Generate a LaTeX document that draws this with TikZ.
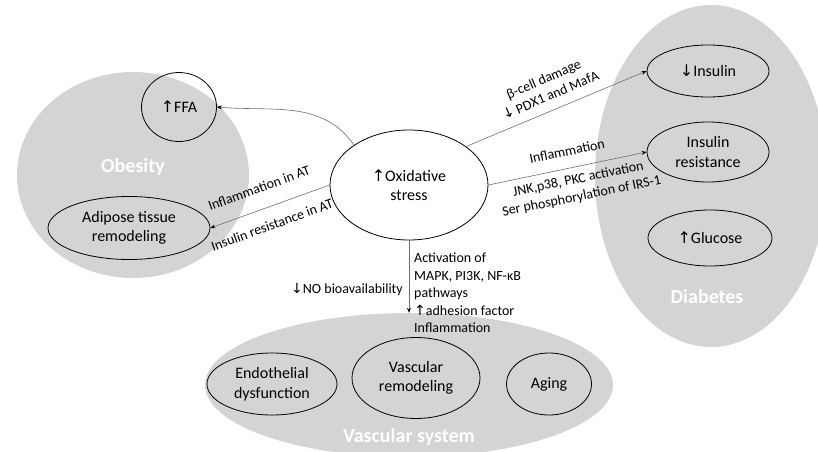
\documentclass[tikz,border=0pt]{standalone}
\usepackage{fontspec}
\setmainfont{Carlito}
\newfontfamily\arrfont{DejaVu Sans}
\usetikzlibrary{arrows.meta,shapes.geometric}
\newcommand\upa{{\arrfont\char"2191}}
\newcommand\dna{{\arrfont\char"2193}}
\definecolor{groupgray}{RGB}{212,212,212}
\definecolor{conngray}{RGB}{110,110,110}
\begin{document}
\begin{tikzpicture}[x=1pt,y=1pt,
  grp/.style={ellipse,fill=groupgray,draw=none,inner sep=0pt},
  grplabel/.style={text=white,font=\fontsize{20}{24}\selectfont\bfseries},
  item/.style={ellipse,draw=black,line width=0.8pt,inner sep=0pt,align=center,font=\fontsize{16}{19.5}\selectfont},
  conn/.style={draw=conngray,line width=0.6pt,-{Stealth[length=5pt,width=4pt,color=black]}},
  lbl/.style={font=\fontsize{14}{17.5}\selectfont,align=center,inner sep=1pt}]
\useasboundingbox (0,0) rectangle (818,451);
% group backgrounds
\begin{scope}
\clip (0,0) rectangle (818,451);
\node[grp,minimum width=232pt,minimum height=206pt] (obes) at (133,276) {};
\node[grp,minimum width=232pt,minimum height=342pt] (diab) at (711,275) {};
\node[grp,minimum width=408pt,minimum height=144pt] (vasc) at (409,66) {};
\end{scope}
\node[grplabel] (obesl) at (133,284) {Obesity};
\node[grplabel] (diabl) at (707,154) {Diabetes};
\node[grplabel] (vascl) at (409,14) {Vascular system};
% items
\node[item,minimum width=75pt,minimum height=69pt] (ffa) at (179,344) {\upa FFA};
\node[item,minimum width=162pt,minimum height=63pt] (adi) at (129,223) {Adipose tissue\\remodeling};
\node[item,fill=white,minimum width=158pt,minimum height=110pt] (ox) at (409,266) {\upa Oxidative\\stress};
\node[item,minimum width=122pt,minimum height=52pt] (ins) at (708,380) {\dna Insulin};
\node[item,minimum width=122pt,minimum height=60pt] (ir) at (708,299) {Insulin\\resistance};
\node[item,minimum width=124pt,minimum height=56pt] (glu) at (710,213) {\upa Glucose};
\node[item,minimum width=130pt,minimum height=62pt] (endo) at (272,67) {Endothelial\\dysfunction};
\node[item,minimum width=128pt,minimum height=81pt] (vrem) at (416,73) {Vascular\\remodeling};
\node[item,minimum width=85pt,minimum height=62pt] (aging) at (549,67) {Aging};
% connectors
\draw[conn] (ox.144) to[out=125,in=-5] (ffa.east);
\draw[conn] (ox.west) -- (adi.east);
\draw[conn] (ox.34) -- (ins.west);
\draw[conn] (ox.east) -- (ir.west);
\draw[conn] (ox.south) -- (vasc.north);
% connector labels
\node[lbl,rotate=20] (l1) at (259,263) {Inflammation in AT};
\node[lbl,rotate=20] (l2) at (272,226) {Insulin resistance in AT};
\node[lbl,rotate=23.3] (l3) at (547,364) {β-cell damage\\\dna\ PDX1 and MafA};
\node[lbl,rotate=11.4] (l4) at (567,300) {Inflammation};
\node[lbl,rotate=11.4] (l5) at (580,263) {JNK,p38, PKC activation\\Ser phosphorylation of IRS-1};
\node[lbl,anchor=east] (nob) at (404,161) {\dna NO bioavailability};
\node[lbl,anchor=west,align=left] (act) at (413,158) {Activation of\\MAPK, PI3K, NF-κB\\pathways\\\upa adhesion factor\\Inflammation};
\end{tikzpicture}
\end{document}
